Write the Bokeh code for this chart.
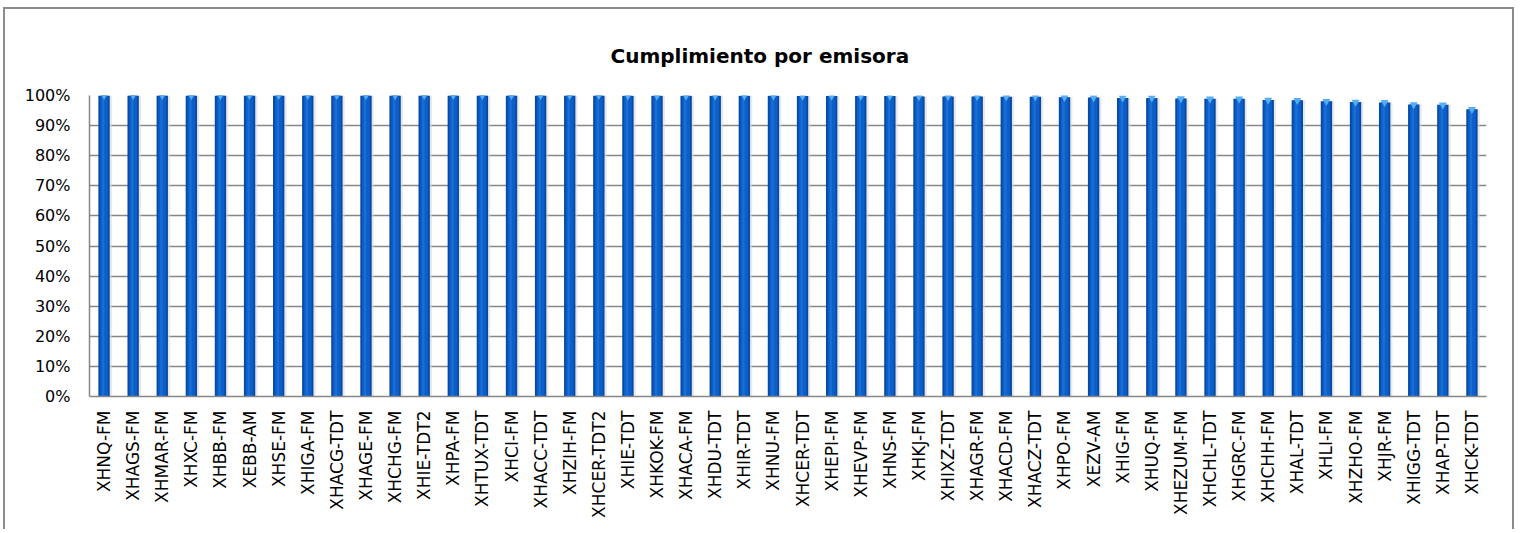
from bokeh.plotting import figure
from bokeh.models import Range1d, FactorRange, FixedTicker, NumeralTickFormatter, ColumnDataSource
from bokeh.transform import dodge
from bokeh.embed import file_html
from bokeh.resources import INLINE
import math

emisoras = ["XHNQ-FM", "XHAGS-FM", "XHMAR-FM", "XHXC-FM", "XHBB-FM", "XEBB-AM", "XHSE-FM",
            "XHIGA-FM", "XHACG-TDT", "XHAGE-FM", "XHCHG-FM", "XHIE-TDT2", "XHPA-FM", "XHTUX-TDT",
            "XHCI-FM", "XHACC-TDT", "XHZIH-FM", "XHCER-TDT2", "XHIE-TDT", "XHKOK-FM", "XHACA-FM",
            "XHDU-TDT", "XHIR-TDT", "XHNU-FM", "XHCER-TDT", "XHEPI-FM", "XHEVP-FM", "XHNS-FM",
            "XHKJ-FM", "XHIXZ-TDT", "XHAGR-FM", "XHACD-FM", "XHACZ-TDT", "XHPO-FM", "XEZV-AM",
            "XHIG-FM", "XHUQ-FM", "XHEZUM-FM", "XHCHL-TDT", "XHGRC-FM", "XHCHH-FM", "XHAL-TDT",
            "XHLI-FM", "XHZHO-FM", "XHJR-FM", "XHIGG-TDT", "XHAP-TDT", "XHCK-TDT"]

cumplimiento = [1.000, 1.000, 1.000, 1.000, 1.000, 1.000, 1.000, 1.000, 1.000, 1.000, 1.000, 1.000,
                1.000, 1.000, 1.000, 1.000, 1.000, 1.000, 0.999, 0.999, 0.999, 0.999, 0.999, 0.999,
                0.998, 0.998, 0.998, 0.998, 0.997, 0.997, 0.997, 0.996, 0.996, 0.994, 0.993, 0.992,
                0.992, 0.990, 0.989, 0.989, 0.985, 0.984, 0.981, 0.978, 0.977, 0.970, 0.969, 0.954]

y_ticks = [0.0, 0.1, 0.2, 0.3, 0.4, 0.5, 0.6, 0.7, 0.8, 0.9, 1.0]

titulo = "Cumplimiento por emisora"

src = ColumnDataSource(dict(x=emisoras, y=cumplimiento))

p = figure(x_range=FactorRange(*emisoras, range_padding=0), y_range=Range1d(0, 1),
           width=1511, height=522, output_backend="svg", toolbar_location=None,
           min_border_left=84, min_border_right=30, min_border_top=86, min_border_bottom=135,
           title=titulo)

p.title.align = "left"
p.title.offset = 521
p.title.text_font = "DejaVu Sans"
p.title.text_font_style = "bold"
p.title.text_font_size = "20px"
p.title.text_color = "black"
p.title.standoff = 56

# shadow
p.vbar(x=dodge("x", 0.12, range=p.x_range), top="y", width=0.30, source=src,
       fill_color="#d9d9d9", fill_alpha=0.6, line_color=None)
# bar body
p.vbar(x="x", top="y", width=0.39, source=src, fill_color="#0849a3", line_color=None)
p.vbar(x="x", top="y", width=0.27, source=src, fill_color="#0c5ec8", line_color=None)
p.vbar(x=dodge("x", -0.03, range=p.x_range), top="y", width=0.08, source=src,
       fill_color="#1a6fd6", line_color=None)
# top cap
p.scatter(x="x", y="y", source=src, marker="inverted_triangle", size=8,
          fill_color="#58aef2", line_color=None)

p.outline_line_color = None
p.background_fill_color = "white"
p.border_fill_color = "white"
p.styles = {"border": "2px solid #8c8c8c", "border-bottom": "none",
            "margin-top": "7px", "margin-left": "3px"}

p.xgrid.grid_line_color = None
p.ygrid.grid_line_color = "#878787"
p.ygrid.grid_line_width = 1.5
p.ygrid.ticker = FixedTicker(ticks=y_ticks)

p.yaxis.ticker = FixedTicker(ticks=y_ticks)
p.yaxis.formatter = NumeralTickFormatter(format="0%")
p.yaxis.axis_line_color = "#878787"
p.yaxis.axis_line_width = 1.5
p.yaxis.major_tick_line_color = None
p.yaxis.minor_tick_line_color = None
p.yaxis.major_tick_out = 0
p.yaxis.major_label_standoff = 19
p.yaxis.major_label_text_font = "DejaVu Sans"
p.yaxis.major_label_text_font_size = "16px"
p.yaxis.major_label_text_color = "black"

p.xaxis.axis_line_color = "#878787"
p.xaxis.axis_line_width = 1.5
p.xaxis.major_tick_line_color = None
p.xaxis.major_tick_out = 0
p.xaxis.major_label_orientation = math.pi / 2
p.xaxis.major_label_standoff = 14
p.xaxis.major_label_text_font = "DejaVu Sans"
p.xaxis.major_label_text_font_size = "17px"
p.xaxis.major_label_text_color = "black"

open("out.html", "w").write(file_html(p, INLINE))
